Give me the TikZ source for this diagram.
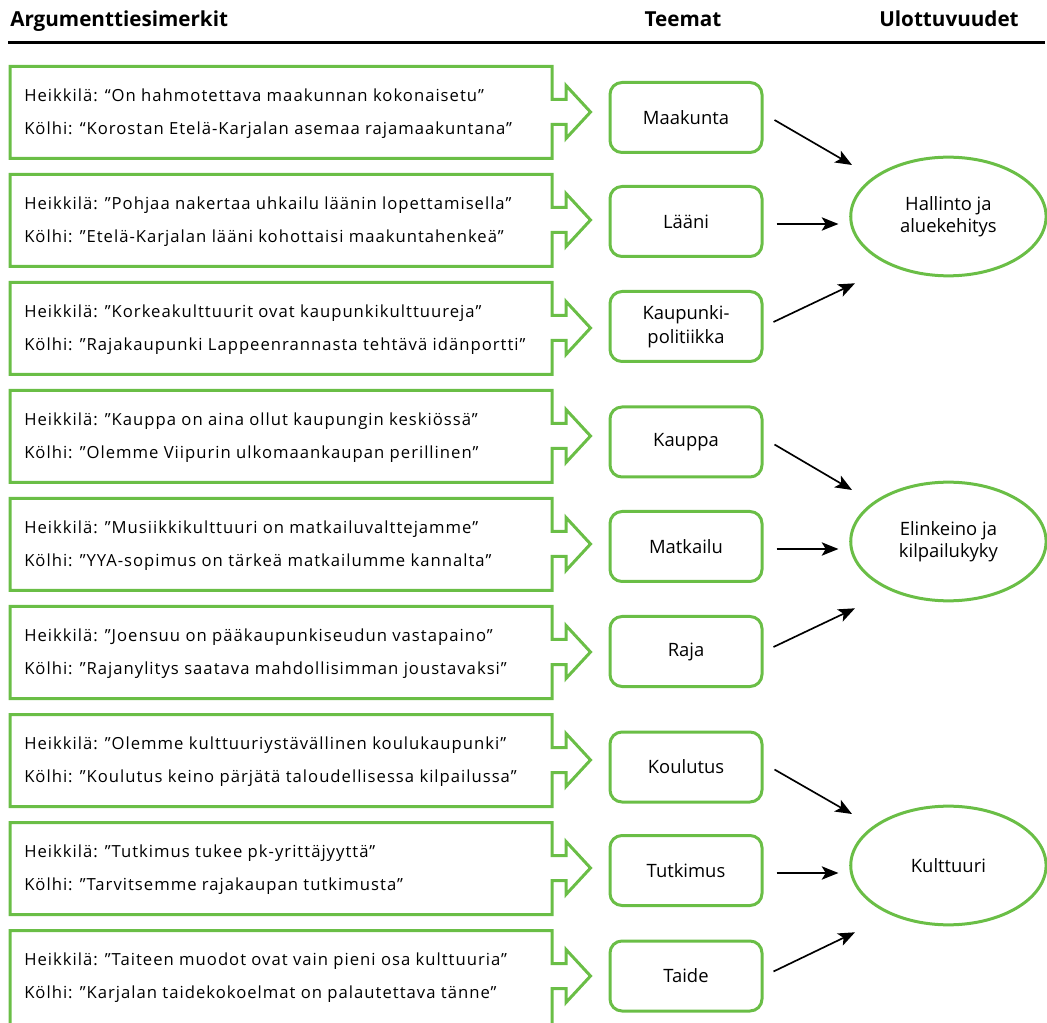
\documentclass[tikz,border=0pt]{standalone}
\usepackage{fontspec}
\setmainfont{Open Sans}
\newfontfamily\bodyfont[LetterSpace=6]{Open Sans}
\usetikzlibrary{arrows.meta,shapes.geometric,calc}
\definecolor{grn}{RGB}{106,190,70}
\begin{document}
\begin{tikzpicture}[x=0.75pt,y=-0.75pt,
  argbox/.style={draw=grn,line width=2.25pt,line join=miter},
  argtext/.style={anchor=base west,inner sep=0pt,font=\bodyfont\fontsize{12.5}{14}\selectfont},
  theme/.style={draw=grn,line width=2.25pt,rounded corners=9pt,minimum width=114pt,minimum height=52.5pt,inner sep=0pt,align=center,font=\fontsize{13.8}{18}\selectfont},
  dimen/.style={draw=grn,line width=2.25pt,ellipse,minimum width=146.5pt,minimum height=89pt,inner sep=0pt,align=center,font=\fontsize{13.8}{16.5}\selectfont},
  head/.style={inner sep=0pt,anchor=base,font=\bfseries\fontsize{15.5}{18}\selectfont},
  arr/.style={line width=1.25pt,-{Stealth[length=12.5pt,width=10pt,inset=3pt]}}]
\useasboundingbox (0,0) rectangle (1047,1023);
\clip (0,0) rectangle (1047,1023);
% headers
\node[head,anchor=base west] (h1) at (10,26.5) {Argumenttiesimerkit};
\node[head] (h2) at (683,26.5) {Teemat};
\node[head] (h3) at (949,26.5) {Ulottuvuudet};
\draw[line width=1.6pt] (8,42.5) coordinate (l1) -- (1045,42.5) coordinate (l2);
% argument boxes
\foreach \k/\a/\b in {
 0/{Heikkilä: “On hahmotettava maakunnan kokonaisetu”}/{Kölhi: “Korostan Etelä-Karjalan asemaa rajamaakuntana”},
 1/{Heikkilä: ”Pohjaa nakertaa uhkailu läänin lopettamisella”}/{Kölhi: ”Etelä-Karjalan lääni kohottaisi maakuntahenkeä”},
 2/{Heikkilä: ”Korkeakulttuurit ovat kaupunkikulttuureja”}/{Kölhi: ”Rajakaupunki Lappeenrannasta tehtävä idänportti”},
 3/{Heikkilä: ”Kauppa on aina ollut kaupungin keskiössä”}/{Kölhi: ”Olemme Viipurin ulkomaankaupan perillinen”},
 4/{Heikkilä: ”Musiikkikulttuuri on matkailuvalttejamme”}/{Kölhi: ”YYA-sopimus on tärkeä matkailumme kannalta”},
 5/{Heikkilä: ”Joensuu on pääkaupunkiseudun vastapaino”}/{Kölhi: ”Rajanylitys saatava mahdollisimman joustavaksi”},
 6/{Heikkilä: ”Olemme kulttuuriystävällinen koulukaupunki”}/{Kölhi: ”Koulutus keino pärjätä taloudellisessa kilpailussa”},
 7/{Heikkilä: ”Tutkimus tukee pk-yrittäjyyttä”}/{Kölhi: ”Tarvitsemme rajakaupan tutkimusta”},
 8/{Heikkilä: ”Taiteen muodot ovat vain pieni osa kulttuuria”}/{Kölhi: ”Karjalan taidekokoelmat on palautettava tänne”}}{
  \pgfmathsetmacro\t{66.5+108*\k}
  \pgfmathsetmacro\bh{\k==8 ? 110 : 92}
  \draw[argbox] (10,\t) -- (552,\t) -- (552,{\t+33}) -- (566,{\t+33}) -- (566,{\t+19})
     -- (590.5,{\t+45.5}) -- (566,{\t+72}) -- (566,{\t+58}) -- (552,{\t+58})
     -- (552,{\t+\bh}) -- (10,{\t+\bh}) -- cycle;
  \node[argtext] (ha\k) at (24,{\t+35}) {\a};
  \node[argtext] (kb\k) at (24,{\t+68}) {\b};
}
% dimensions
\node[dimen] (e1) at (948.4,216.5) {Hallinto ja\\aluekehitys};
\node[dimen] (e2) at (948.4,541.5) {Elinkeino ja\\kilpailukyky};
\node[dimen] (e3) at (948.4,865.5) {Kulttuuri};
% themes
\node[theme] (t1) at (686,117.5) {Maakunta};
\node[theme] (t2) at (686,221.5) {Lääni};
\node[theme] (t3) at (686,326.5) {Kaupunki-\\politiikka};
\node[theme] (t4) at (686,442) {Kauppa};
\node[theme] (t5) at (686,546.5) {Matkailu};
\node[theme] (t6) at (686,651.5) {Raja};
\node[theme] (t7) at (686,767) {Koulutus};
\node[theme] (t8) at (686,870.5) {Tutkimus};
\node[theme] (t9) at (686,976) {Taide};
% connectors
\foreach \e/\a/\b/\c in {e1/t1/t2/t3, e2/t4/t5/t6, e3/t7/t8/t9}{
  \draw[arr] ([shift={(11,2.5)}]\a.east) -- ([shift={(-96.4,-51.5)}]\e.center);
  \draw[arr] ([shift={(13,2.5)}]\b.east) -- ([shift={(-110,7.5)}]\e.center);
  \draw[arr] ([shift={(10,-4.5)}]\c.east) -- ([shift={(-93.4,66.8)}]\e.center);
}
\end{tikzpicture}
\end{document}
